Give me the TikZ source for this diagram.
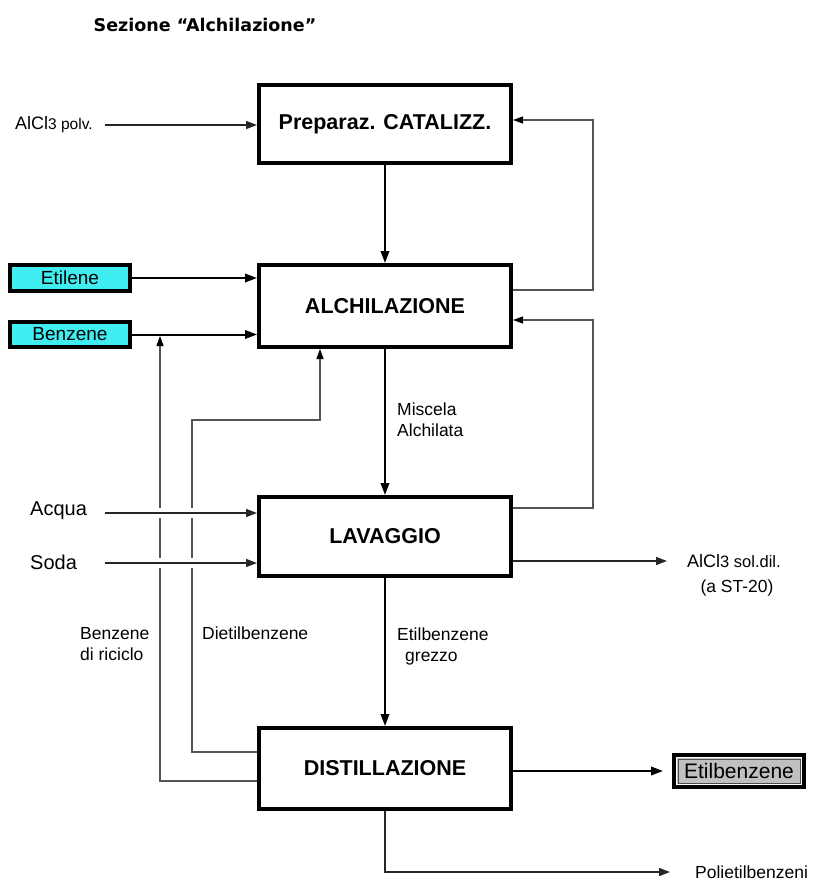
\documentclass[tikz,border=0pt]{standalone}
\usepackage{fontspec}
\setmainfont{Liberation Sans}
\newfontfamily\titlefont{DejaVu Sans}
\usetikzlibrary{arrows.meta}
\definecolor{cyanbox}{RGB}{64,238,242}
\definecolor{graybox}{RGB}{192,192,192}
\definecolor{recgray}{RGB}{85,85,85}
\begin{document}
\begin{tikzpicture}[x=1pt,y=-1pt,
  proc/.style={draw, line width=4pt, minimum width=252pt, inner sep=0pt, font=\fontsize{21.5}{25}\selectfont\bfseries},
  feed/.style={draw, line width=4pt, fill=cyanbox, minimum width=120pt, inner sep=0pt, font=\fontsize{19}{22}\selectfont},
  lab/.style={font=\fontsize{17.5}{21}\selectfont, inner sep=0pt, align=left},
  tip/.style={-{Triangle[length=12pt,width=8.5pt]}},
  rtip/.style={-{Triangle[length=10pt,width=7pt,color=black]}},
  main/.style={tip, line width=2pt},
  thinarr/.style={-{Triangle[length=11pt,width=8pt]}, line width=1.5pt, draw=black!85},
  rec/.style={line width=1.3pt, draw=recgray},
  gap/.style={preaction={draw=white, line width=10pt, -, shorten >=15pt}},
]
\useasboundingbox (0,0) rectangle (814,886);

% title
\node[font=\titlefont\bfseries\fontsize{17.5}{20}\selectfont] (title) at (205,25) {Sezione “Alchilazione”};

% process boxes
\node[proc, minimum height=78pt] (prep) at (385,124) {Preparaz. CATALIZZ.};
\node[proc, minimum height=82pt] (alch) at (385,306) {ALCHILAZIONE};
\node[proc, minimum height=79pt] (lav) at (385,536.5) {LAVAGGIO};
\node[proc, minimum height=81pt] (dist) at (385,768.5) {DISTILLAZIONE};

% feed / product boxes
\node[feed, minimum height=26pt] (etil) at (70,278) {Etilene};
\node[feed, minimum height=25pt] (benz) at (70,334.5) {Benzene};
\node[draw, line width=4pt, fill=graybox, minimum width=130pt, minimum height=32pt, inner sep=0pt,
      font=\fontsize{21}{24}\selectfont] (etb) at (739,771) {Etilbenzene};
\draw[white, line width=1pt] ([shift={(4.5pt,-4.5pt)}]etb.north west) rectangle ([shift={(-4.5pt,4.5pt)}]etb.south east);
\draw[black!70, line width=0.8pt] ([shift={(6pt,-6pt)}]etb.north west) rectangle ([shift={(-6pt,6pt)}]etb.south east);

% text labels
\node[lab, anchor=west] (alpolv) at (15,125) {\fontsize{18}{21}\selectfont AlCl\fontsize{15.5}{18}\selectfont 3 polv.};
\node[lab, anchor=west, font=\fontsize{20}{23}\selectfont] (acqua) at (30,511) {Acqua};
\node[lab, anchor=west, font=\fontsize{20}{23}\selectfont] (soda) at (30,562) {Soda};
\node[lab, anchor=north west] (misc) at (397,403) {Miscela\\Alchilata};
\node[lab, anchor=north west] (grez) at (397,628) {Etilbenzene\\\hspace*{8pt}grezzo};
\node[lab, anchor=north west] (bric) at (80,627) {Benzene\\di riciclo};
\node[lab, anchor=north west] (diet) at (202,627) {Dietilbenzene};
\node[lab, anchor=west] (sol) at (687,561) {\fontsize{18}{21}\selectfont AlCl\fontsize{16.5}{19}\selectfont 3 sol.dil.};
\node[lab, anchor=north] (st) at (737,580) {(a ST-20)};
\node[lab, anchor=west] (poli) at (695,872) {Polietilbenzeni};

% free-end coordinates
\coordinate (al0) at (105,125);
\coordinate (acq0) at (105,513);
\coordinate (sod0) at (105,563);
\coordinate (bzup) at (160,336);
\coordinate (d1) at (192,420);
\coordinate (rl1) at (593,120);
\coordinate (rl2) at (593,320);

% recycle lines
\draw[rec, rtip] (dist.west |- 0,781) -| (bzup);
\draw[rec, rtip] (dist.west |- 0,752) -| (d1) -| (alch.south -| 320,0);
\draw[rec, rtip] (alch.east |- 0,290) -| (rl1) -- (prep.east |- rl1);
\draw[rec, rtip] (lav.east |- 0,508) -| (rl2) -- (alch.east |- rl2);

% main flow
\draw[main] (prep.south) -- (alch.north);
\draw[main] (etil.east) -- (alch.west |- etil.east);
\draw[main] (benz.east) -- (alch.west |- benz.east);
\draw[main] (alch.south) -- (lav.north);
\draw[main] (lav.south) -- (dist.north);
\draw[main] (dist.east |- etb.west) -- ([xshift=-9pt]etb.west);

% auxiliary streams
\draw[thinarr] (al0) -- (prep.west |- al0);
\draw[thinarr, gap] (acq0) -- (lav.west |- acq0);
\draw[thinarr, gap] (sod0) -- (lav.west |- sod0);
\draw[thinarr] (lav.east |- sol.west) -- ([xshift=-20pt]sol.west);
\draw[thinarr] (dist.south) |- ([xshift=-25pt]poli.west);
\end{tikzpicture}
\end{document}
